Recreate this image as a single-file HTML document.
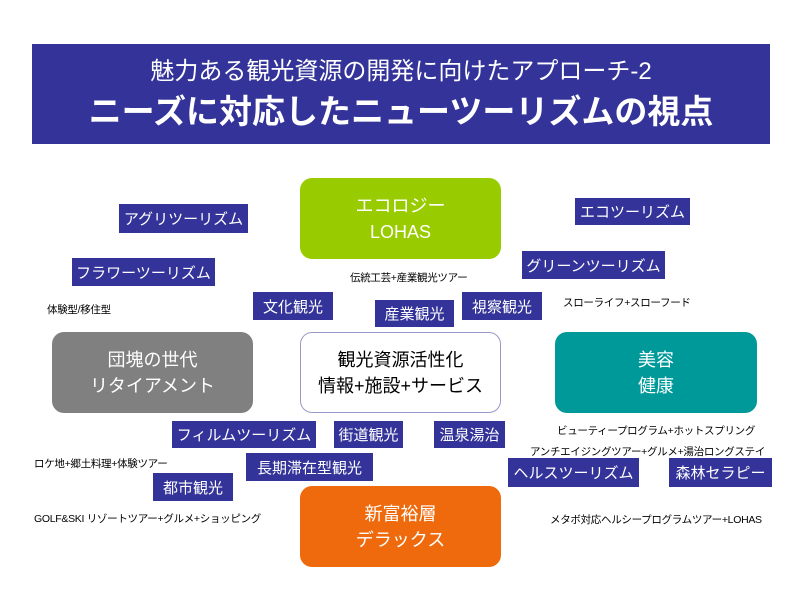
<!DOCTYPE html>
<html><head><meta charset="utf-8"><style>
body{margin:0;width:800px;height:597px;background:#fff;position:relative;overflow:hidden;font-family:"Liberation Sans","Noto Sans CJK JP",sans-serif}
div{position:absolute;box-sizing:border-box}
.t{left:32px;top:44px;width:738px;height:100px;background:#333399;color:#fff;text-align:center}
.b{border-radius:12px;color:#fff;font-size:18px;line-height:26px;text-align:center;display:flex;align-items:center;justify-content:center}
.l{background:#333399;color:#fff;font-size:15px;display:flex;align-items:center;justify-content:center;white-space:nowrap}
.s{font-size:10.5px;color:#000;white-space:nowrap;letter-spacing:-0.3px}
</style></head><body>
<div class="t"><div style="left:0;right:0;top:13px;font-size:24px;line-height:30px">魅力ある観光資源の開発に向けたアプローチ-2</div>
<div style="left:0;right:0;top:48px;font-size:33px;line-height:40px;font-weight:bold">ニーズに対応したニューツーリズムの視点</div></div>

<div class="b" style="left:300px;top:178px;width:201px;height:81px;background:#99cc00">エコロジー<br>LOHAS</div>
<div class="b" style="left:52px;top:332px;width:201px;height:81px;background:#808080">団塊の世代<br>リタイアメント</div>
<div class="b" style="left:300px;top:332px;width:201px;height:81px;background:#fff;border:1px solid #9999cc;color:#000">観光資源活性化<br>情報+施設+サービス</div>
<div class="b" style="left:555px;top:332px;width:202px;height:81px;background:#009999">美容<br>健康</div>
<div class="b" style="left:300px;top:486px;width:201px;height:81px;background:#ee6a0c">新富裕層<br>デラックス</div>

<div class="l" style="left:119px;top:204px;width:129px;height:29px">アグリツーリズム</div>
<div class="l" style="left:72px;top:258px;width:143px;height:28px">フラワーツーリズム</div>
<div class="l" style="left:253px;top:292px;width:80px;height:28px">文化観光</div>
<div class="l" style="left:375px;top:300px;width:79px;height:27px">産業観光</div>
<div class="l" style="left:462px;top:292px;width:80px;height:28px">視察観光</div>
<div class="l" style="left:575px;top:198px;width:115px;height:27px">エコツーリズム</div>
<div class="l" style="left:522px;top:251px;width:143px;height:28px">グリーンツーリズム</div>
<div class="l" style="left:172px;top:421px;width:144px;height:27px">フィルムツーリズム</div>
<div class="l" style="left:334px;top:421px;width:69px;height:27px">街道観光</div>
<div class="l" style="left:434px;top:421px;width:71px;height:27px">温泉湯治</div>
<div class="l" style="left:246px;top:453px;width:127px;height:28px">長期滞在型観光</div>
<div class="l" style="left:153px;top:473px;width:80px;height:28px">都市観光</div>
<div class="l" style="left:508px;top:458px;width:131px;height:29px">ヘルスツーリズム</div>
<div class="l" style="left:669px;top:458px;width:103px;height:29px">森林セラピー</div>

<div class="s" style="left:47px;top:302px">体験型/移住型</div>
<div class="s" style="left:350px;top:270px">伝統工芸+産業観光ツアー</div>
<div class="s" style="left:563px;top:295px">スローライフ+スローフード</div>
<div class="s" style="left:557px;top:423px">ビューティープログラム+ホットスプリング</div>
<div class="s" style="left:530px;top:444px">アンチエイジングツアー+グルメ+湯治ロングステイ</div>
<div class="s" style="left:34px;top:456px">ロケ地+郷土料理+体験ツアー</div>
<div class="s" style="left:34px;top:511px">GOLF&amp;SKI リゾートツアー+グルメ+ショッピング</div>
<div class="s" style="left:550px;top:512px">メタボ対応ヘルシープログラムツアー+LOHAS</div>
</body></html>
